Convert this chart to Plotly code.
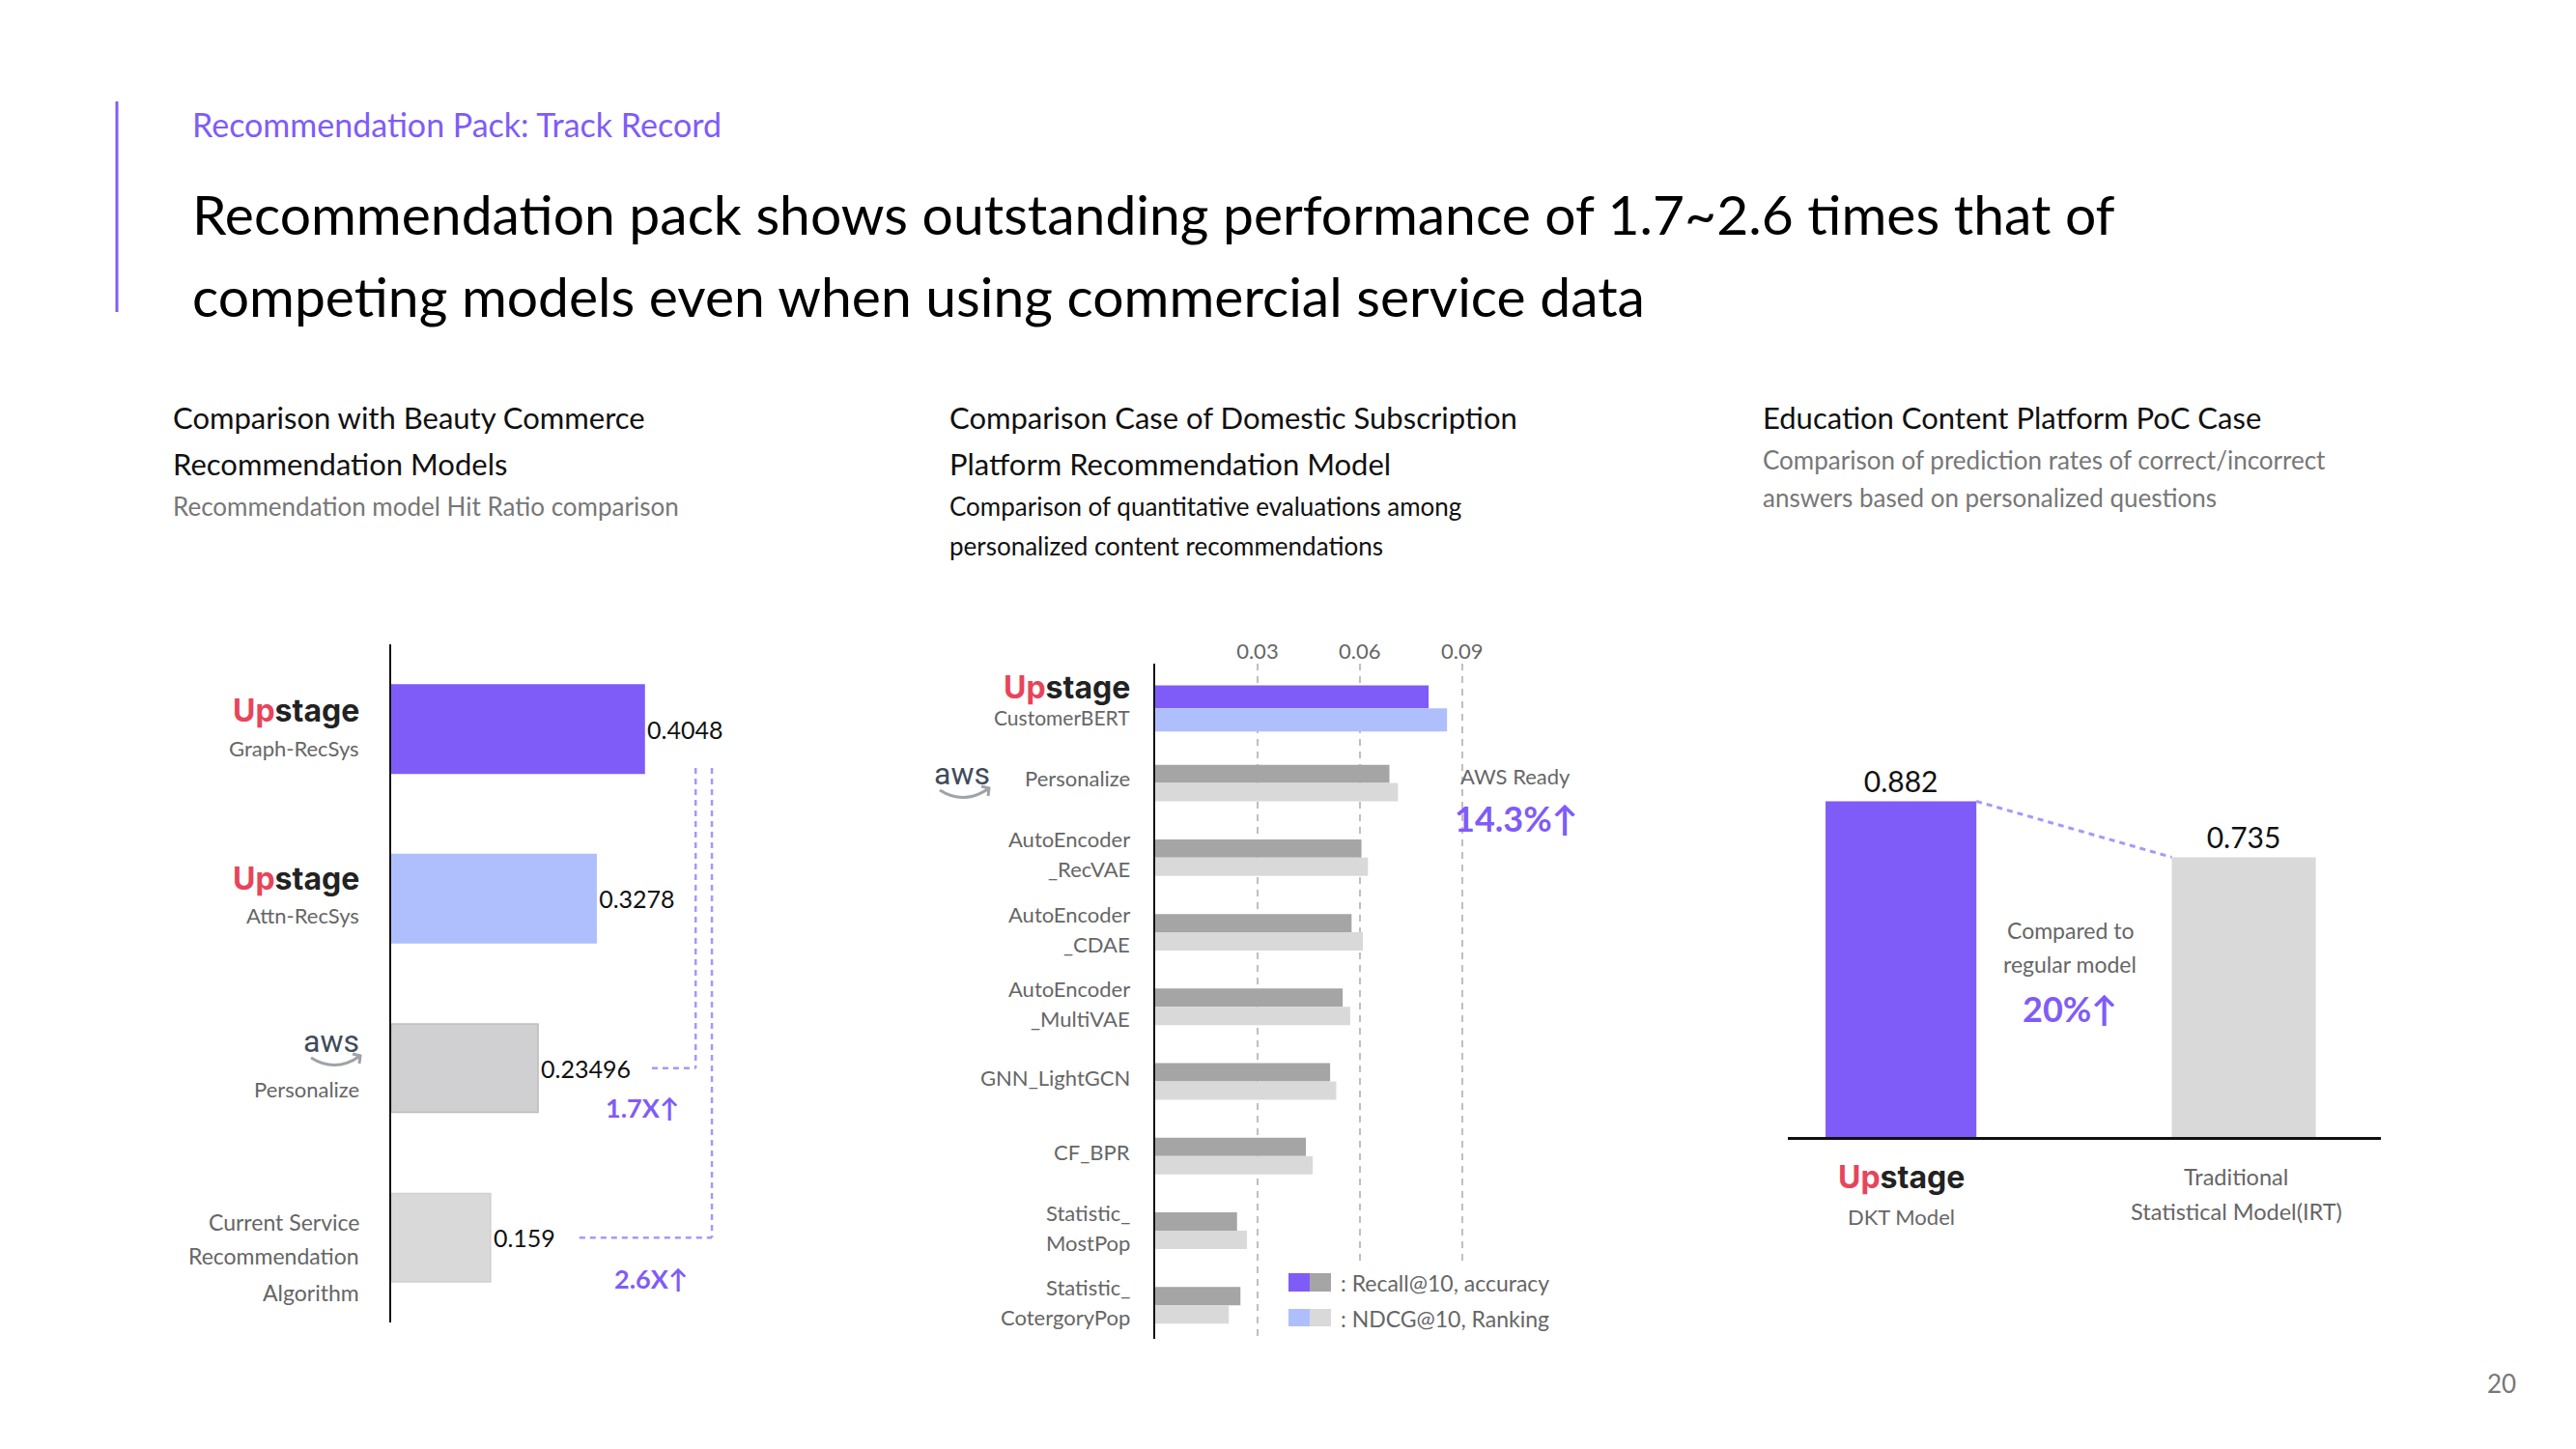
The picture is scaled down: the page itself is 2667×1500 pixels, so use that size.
import plotly.graph_objects as go

# ---------------- data ----------------
left_models = ["Graph-RecSys", "Attn-RecSys", "Personalize",
               "Current Service Recommendation Algorithm"]
left_hit_ratio = [0.4048, 0.3278, 0.23496, 0.159]

mid_models = ["CustomerBERT", "Personalize", "AutoEncoder_RecVAE", "AutoEncoder_CDAE",
              "AutoEncoder_MultiVAE", "GNN_LightGCN", "CF_BPR",
              "Statistic_MostPop", "Statistic_CotergoryPop"]
mid_recall = [0.0802, 0.0687, 0.0605, 0.0576, 0.0550, 0.0513, 0.0442, 0.0240, 0.0250]
mid_ndcg = [0.0856, 0.0712, 0.0624, 0.0609, 0.0572, 0.0531, 0.0462, 0.0269, 0.0216]
mid_ticks = [0.03, 0.06, 0.09]

right_models = ["DKT Model", "Traditional Statistical Model(IRT)"]
right_accuracy = [0.882, 0.735]

# ---------------- style ----------------
W, H = 2667, 1500
FONT = "Lato"
LOGO_FONT = "Inter"
PURPLE = "#7F5CF8"
LBLUE = "#AFBFFD"
DGRAY = "#A5A5A5"
LGRAY = "#D9D9D9"
DASH_PURPLE = "#A797FA"
TXT_GRAY = "#666666"
UPSTAGE = "<b><span style='color:#E8445A'>Up</span><span style='color:#222222'>stage</span></b>"


def px(x):
    return x / W


def py(y):
    return 1 - y / H


fig = go.Figure()

# ---------------- left chart ----------------
fig.add_trace(go.Bar(
    x=left_hit_ratio, y=left_models, orientation="h", xaxis="x", yaxis="y",
    width=0.52,
    marker=dict(color=[PURPLE, LBLUE, "#D0CFD1", LGRAY],
                line=dict(color=[PURPLE, LBLUE, "#BDBDBD", "#D0D0D0"], width=1.5)),
    text=[str(v) for v in left_hit_ratio], textposition="outside",
    textfont=dict(size=25, color="#111111", family=FONT),
    constraintext="none", cliponaxis=False, hoverinfo="skip", showlegend=False,
))

# ---------------- middle chart ----------------
mid_w = [0.31] + [0.245] * (len(mid_models) - 1)
fig.add_trace(go.Bar(
    x=mid_recall, y=mid_models, orientation="h", xaxis="x2", yaxis="y2",
    width=mid_w, offset=[-w for w in mid_w],
    marker=dict(color=[PURPLE] + [DGRAY] * (len(mid_models) - 1), line=dict(width=0)),
    hoverinfo="skip", showlegend=False,
))
fig.add_trace(go.Bar(
    x=mid_ndcg, y=mid_models, orientation="h", xaxis="x2", yaxis="y2",
    width=mid_w, offset=[0] * len(mid_models),
    marker=dict(color=[LBLUE] + [LGRAY] * (len(mid_models) - 1), line=dict(width=0)),
    hoverinfo="skip", showlegend=False,
))

# ---------------- right chart ----------------
fig.add_trace(go.Bar(
    x=right_models, y=right_accuracy, xaxis="x3", yaxis="y3",
    width=[0.44, 0.42],
    marker=dict(color=[PURPLE, LGRAY], line=dict(width=0)),
    text=[str(v) for v in right_accuracy], textposition="outside",
    textfont=dict(size=30, color="#111111", family=FONT),
    constraintext="none", cliponaxis=False, hoverinfo="skip", showlegend=False,
))

fig.update_layout(
    width=W, height=H, margin=dict(l=0, r=0, t=0, b=0),
    paper_bgcolor="white", plot_bgcolor="rgba(0,0,0,0)",
    barmode="overlay", showlegend=False, font=dict(family=FONT),
    xaxis=dict(domain=[px(405), px(761)], anchor="y", range=[0, 0.55], visible=False),
    yaxis=dict(domain=[py(1369), py(667)], anchor="x", type="category",
               categoryorder="array", categoryarray=left_models, range=[3.5, -0.5],
               showticklabels=False, ticks="", showgrid=False, zeroline=False,
               showline=True, linecolor="#111111", linewidth=2),
    xaxis2=dict(domain=[px(1196), px(1549)], anchor="y2", range=[0, 0.1], side="top",
                tickvals=mid_ticks, ticktext=[f"{t:.2f}" for t in mid_ticks],
                tickfont=dict(size=22, color=TXT_GRAY, family=FONT), ticks="",
                showgrid=True, gridcolor="#BFBFBF", gridwidth=2, griddash="7px,6px",
                zeroline=False, showline=False),
    yaxis2=dict(domain=[py(1386), py(687)], anchor="x2", type="category",
                categoryorder="array", categoryarray=mid_models, range=[8.45, -0.6],
                showticklabels=False, ticks="", showgrid=False, zeroline=False,
                showline=True, linecolor="#111111", linewidth=2),
    xaxis3=dict(domain=[px(1851), px(2465)], anchor="y3", type="category",
                categoryorder="array", categoryarray=right_models, range=[-0.33, 1.4],
                showticklabels=False, ticks="", showgrid=False, zeroline=False,
                showline=True, linecolor="#111111", linewidth=2.5),
    yaxis3=dict(domain=[py(1177), py(783)], anchor="x3", range=[0, 1], visible=False),
)

ann = []


def text_px(t, x, y, size, color, xanchor="left", bold=False, family=FONT):
    ann.append(dict(text=f"<b>{t}</b>" if bold else t, x=px(x), y=py(y),
                    xref="paper", yref="paper", xanchor=xanchor, yanchor="middle",
                    showarrow=False, font=dict(size=size, color=color, family=family)))


def ylabel(t, yref, xright, cat, shift, size, color, family=FONT):
    ann.append(dict(text=t, x=px(xright), y=cat, xref="paper", yref=yref,
                    xanchor="right", yanchor="middle", yshift=shift, showarrow=False,
                    font=dict(size=size, color=color, family=family)))


def xlabel(t, xref, cat, y, size, color, family=FONT, xshift=0):
    ann.append(dict(text=t, x=cat, y=py(y), xref=xref, yref="paper", xshift=xshift,
                    xanchor="center", yanchor="middle", showarrow=False,
                    font=dict(size=size, color=color, family=family)))


# header
text_px("Recommendation Pack: Track Record", 197, 128, 34, PURPLE)
text_px("Recommendation pack shows outstanding performance of 1.7~2.6 times that of", 197, 221, 57, "#000000")
text_px("competing models even when using commercial service data", 197, 306, 57, "#000000")

# section headings
text_px("Comparison with Beauty Commerce", 177, 432, 31, "#111111")
text_px("Recommendation Models", 177, 480, 31, "#111111")
text_px("Recommendation model Hit Ratio comparison", 177, 524, 26, "#777777")

text_px("Comparison Case of Domestic Subscription", 981, 432, 31, "#111111")
text_px("Platform Recommendation Model", 981, 480, 31, "#111111")
text_px("Comparison of quantitative evaluations among", 981, 524, 26, "#111111")
text_px("personalized content recommendations", 981, 565, 26, "#111111")

text_px("Education Content Platform PoC Case", 1823, 432, 31, "#111111")
text_px("Comparison of prediction rates of correct/incorrect", 1823, 476, 26, "#777777")
text_px("answers based on personalized questions", 1823, 515, 26, "#777777")

# left y labels
ylabel(UPSTAGE, "y", 374, left_models[0], 19, 32, "#222222", LOGO_FONT)
ylabel("Graph-RecSys", "y", 374, left_models[0], -20, 22, TXT_GRAY)
ylabel(UPSTAGE, "y", 374, left_models[1], 21, 32, "#222222", LOGO_FONT)
ylabel("Attn-RecSys", "y", 374, left_models[1], -17, 22, TXT_GRAY)
ylabel("aws", "y", 374, left_models[2], 28, 32, "#3F4B5B", "Roboto")
ylabel("Personalize", "y", 374, left_models[2], -22, 22, TXT_GRAY)
ylabel("Current Service", "y", 374, left_models[3], 16, 23, TXT_GRAY)
ylabel("Recommendation", "y", 374, left_models[3], -19, 23, TXT_GRAY)
ylabel("Algorithm", "y", 374, left_models[3], -57, 23, TXT_GRAY)

text_px("1.7X↑", 665, 1146, 27, PURPLE, "center", bold=True)
text_px("2.6X↑", 674, 1323, 27, PURPLE, "center", bold=True)

# middle y labels
MX = 1172
ylabel(UPSTAGE, "y2", MX, mid_models[0], 22, 32, "#222222", LOGO_FONT)
ylabel("CustomerBERT", "y2", MX, mid_models[0], -9, 21, TXT_GRAY)
ylabel("Personalize", "y2", MX, mid_models[1], 5, 22, TXT_GRAY)
ann.append(dict(text="aws", x=px(1027), y=mid_models[1], xref="paper", yref="y2",
                xanchor="right", yanchor="middle", yshift=10, showarrow=False,
                font=dict(size=32, color="#3F4B5B", family="Roboto")))
two_line = {2: ("AutoEncoder", "_RecVAE"), 3: ("AutoEncoder", "_CDAE"),
            4: ("AutoEncoder", "_MultiVAE"), 7: ("Statistic_", "MostPop"),
            8: ("Statistic_", "CotergoryPop")}
for i, (a, b) in two_line.items():
    ylabel(a, "y2", MX, mid_models[i], 19, 22, TXT_GRAY)
    ylabel(b, "y2", MX, mid_models[i], -12, 22, TXT_GRAY)
ylabel("GNN_LightGCN", "y2", MX, mid_models[5], 4, 22, TXT_GRAY)
ylabel("CF_BPR", "y2", MX, mid_models[6], 4, 22, TXT_GRAY)

text_px("AWS Ready", 1510, 803, 22, TXT_GRAY)
text_px("14.3%↑", 1504, 847, 36, PURPLE, bold=True)

# legend text
text_px(": Recall@10, accuracy", 1386, 1328, 23, TXT_GRAY)
text_px(": NDCG@10, Ranking", 1386, 1365, 23, TXT_GRAY)

# right chart labels
text_px("Compared to", 2143, 963, 23, TXT_GRAY, "center")
text_px("regular model", 2143, 998, 23, TXT_GRAY, "center")
text_px("20%↑", 2143, 1044, 36, PURPLE, "center", bold=True)
xlabel(UPSTAGE, "x3", right_models[0], 1218, 32, "#222222", LOGO_FONT)
xlabel("DKT Model", "x3", right_models[0], 1259, 22, TXT_GRAY)
xlabel("Traditional", "x3", right_models[1], 1218, 23.5, TXT_GRAY, xshift=-8)
xlabel("Statistical Model(IRT)", "x3", right_models[1], 1254, 23.5, TXT_GRAY, xshift=-8)

# page number
text_px("20", 2590, 1432, 26, "#777777", "center")

shapes = []
# header accent line
shapes.append(dict(type="line", xref="paper", yref="paper", x0=px(121), x1=px(121),
                   y0=py(105), y1=py(323), line=dict(color=PURPLE, width=3)))

# left chart dashed connectors (data coords)
dl = dict(color=DASH_PURPLE, width=2.5, dash="6px,5px")
shapes += [
    dict(type="line", xref="x", yref="y", x0=0.487, x1=0.487, y0=0.23, y1=2, line=dl),
    dict(type="line", xref="x", yref="y", x0=0.417, x1=0.487, y0=2, y1=2, line=dl),
    dict(type="line", xref="x", yref="y", x0=0.513, x1=0.513, y0=0.23, y1=3, line=dl),
    dict(type="line", xref="x", yref="y", x0=0.301, x1=0.513, y0=3, y1=3, line=dl),
]

# right chart dashed connector between bar tops
shapes.append(dict(type="line", xref="x3", yref="y3", x0=0.22, x1=0.79,
                   y0=right_accuracy[0], y1=right_accuracy[1],
                   line=dict(color=DASH_PURPLE, width=3, dash="6px,5px")))


# aws smiles
def smile(x0, x1, y, depth):
    xm = (x0 + x1) / 2
    return dict(type="path", xref="paper", yref="paper",
                path=f"M {px(x0)},{py(y)} Q {px(xm)},{py(y + depth)} {px(x1)},{py(y - 2)} "
                     f"M {px(x1 - 8)},{py(y - 4)} L {px(x1)},{py(y - 2)} L {px(x1 - 1)},{py(y + 6)}",
                line=dict(color="#9EA3A8", width=3), layer="above")


shapes.append(smile(322, 373, 1095, 16))
shapes.append(smile(973, 1024, 818, 16))

# white cover under legend, then legend swatches
shapes.append(dict(type="rect", xref="paper", yref="paper", x0=px(1318), x1=px(1640),
                   y0=py(1396), y1=py(1305), fillcolor="white", line=dict(width=0), layer="above"))
for (x0, x1, y0, y1, c) in [(1334, 1356, 1318, 1337, PURPLE), (1356, 1378, 1318, 1337, DGRAY),
                            (1334, 1356, 1355, 1373, LBLUE), (1356, 1378, 1355, 1373, LGRAY)]:
    shapes.append(dict(type="rect", xref="paper", yref="paper", x0=px(x0), x1=px(x1),
                       y0=py(y1), y1=py(y0), fillcolor=c, line=dict(width=0), layer="above"))

fig.update_layout(annotations=ann, shapes=shapes)
fig.write_html("out.html")
